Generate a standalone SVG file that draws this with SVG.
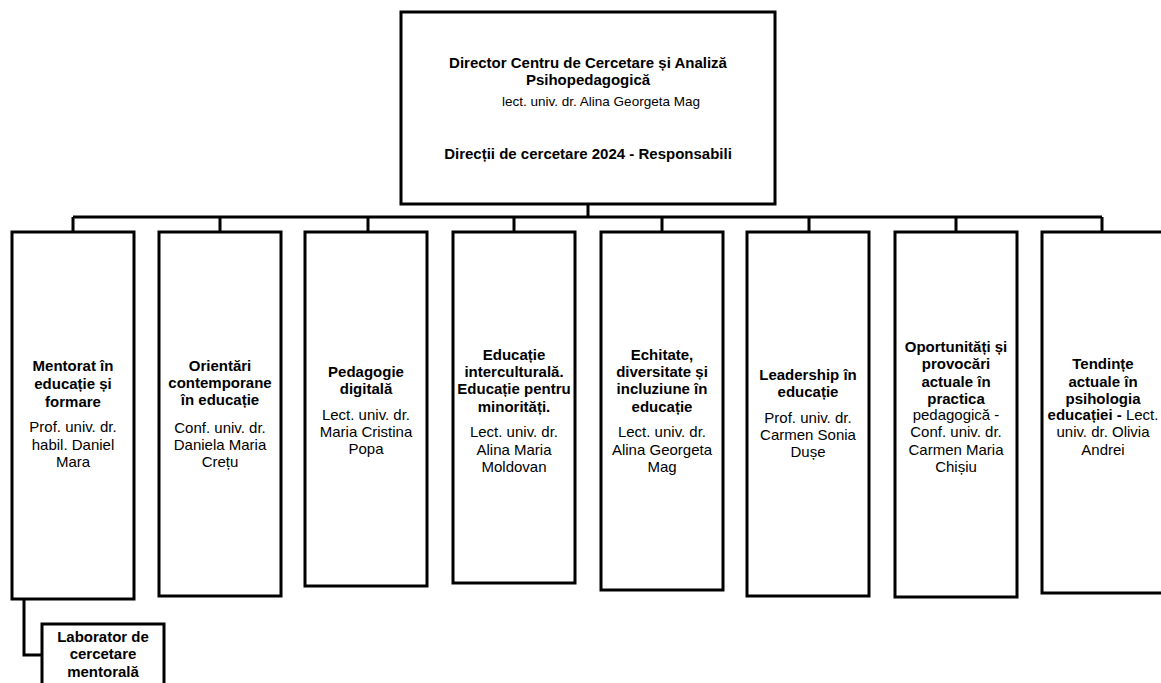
<svg xmlns="http://www.w3.org/2000/svg" width="1161" height="683" viewBox="0 0 1161 683">
<style>
.box{fill:#fff;stroke:#000;stroke-width:3}
.con{fill:none;stroke:#000;stroke-width:3}
text{font-family:"Liberation Sans",Arial,sans-serif;fill:#000;text-anchor:middle;font-size:15px}
.b{font-weight:bold}
.t{font-size:15px}
.s{font-size:13.5px}
</style>
<rect width="1161" height="683" fill="#fff"/>
<g id="connectors">
<path class="con" d="M588,205V217M73,217H1102M73,217V232M220,217V232M368,217V232M514,217V232M662,217V232M809,217V232M956,217V232M1102,217V232"/>
<path class="con" d="M24,599V655H42"/>
</g>
<g id="director">
<rect class="box" x="401" y="12" width="374" height="192"/>
<text class="b t" x="588" y="68">Director Centru de Cercetare și Analiză</text>
<text class="b t" x="588" y="85">Psihopedagogică</text>
<text class="s" x="601" y="106">lect. univ. dr. Alina Georgeta Mag</text>
<text class="b t" x="588" y="159">Direcții de cercetare 2024 - Responsabili</text>
</g>
<g id="n1">
<rect class="box" x="12" y="232" width="122" height="367"/>
<text class="b" x="73" y="371">Mentorat în</text>
<text class="b" x="73" y="389">educație și</text>
<text class="b" x="73" y="407">formare</text>
<text x="73" y="432">Prof. univ. dr.</text>
<text x="73" y="450">habil. Daniel</text>
<text x="73" y="467">Mara</text>
</g>
<g id="n2">
<rect class="box" x="159" y="232" width="122" height="364"/>
<text class="b" x="220" y="371">Orientări</text>
<text class="b" x="220" y="388">contemporane</text>
<text class="b" x="220" y="405">în educație</text>
<text x="220" y="433">Conf. univ. dr.</text>
<text x="220" y="450">Daniela Maria</text>
<text x="220" y="467">Crețu</text>
</g>
<g id="n3">
<rect class="box" x="305" y="232" width="122" height="354"/>
<text class="b" x="366" y="377">Pedagogie</text>
<text class="b" x="366" y="394">digitală</text>
<text x="366" y="420">Lect. univ. dr.</text>
<text x="366" y="437">Maria Cristina</text>
<text x="366" y="454">Popa</text>
</g>
<g id="n4">
<rect class="box" x="453" y="232" width="122" height="351"/>
<text class="b" x="514" y="360">Educație</text>
<text class="b" x="514" y="377">interculturală.</text>
<text class="b" x="514" y="394">Educație pentru</text>
<text class="b" x="514" y="412">minorități.</text>
<text x="514" y="437">Lect. univ. dr.</text>
<text x="514" y="455">Alina Maria</text>
<text x="514" y="472">Moldovan</text>
</g>
<g id="n5">
<rect class="box" x="601" y="232" width="122" height="358"/>
<text class="b" x="662" y="360">Echitate,</text>
<text class="b" x="662" y="377">diversitate și</text>
<text class="b" x="662" y="394">incluziune în</text>
<text class="b" x="662" y="412">educație</text>
<text x="662" y="437">Lect. univ. dr.</text>
<text x="662" y="455">Alina Georgeta</text>
<text x="662" y="472">Mag</text>
</g>
<g id="n6">
<rect class="box" x="747" y="232" width="122" height="364"/>
<text class="b" x="808" y="380">Leadership în</text>
<text class="b" x="808" y="397">educație</text>
<text x="808" y="423">Prof. univ. dr.</text>
<text x="808" y="440">Carmen Sonia</text>
<text x="808" y="457">Dușe</text>
</g>
<g id="n7">
<rect class="box" x="895" y="232" width="122" height="365"/>
<text class="b" x="956" y="352">Oportunități și</text>
<text class="b" x="956" y="369">provocări</text>
<text class="b" x="956" y="387">actuale în</text>
<text class="b" x="956" y="404">practica</text>
<text x="956" y="420">pedagogică -</text>
<text x="956" y="437">Conf. univ. dr.</text>
<text x="956" y="455">Carmen Maria</text>
<text x="956" y="472">Chișiu</text>
</g>
<g id="n8">
<rect class="box" x="1042" y="232" width="122" height="361"/>
<text class="b" x="1103" y="369">Tendințe</text>
<text class="b" x="1103" y="387">actuale în</text>
<text class="b" x="1103" y="404">psihologia</text>
<text x="1103" y="420"><tspan class="b">educației -</tspan> Lect.</text>
<text x="1103" y="437">univ. dr. Olivia</text>
<text x="1103" y="455">Andrei</text>
</g>
<g id="lab">
<rect class="box" x="42" y="624" width="122" height="70"/>
<text class="b" x="103" y="642">Laborator de</text>
<text class="b" x="103" y="659">cercetare</text>
<text class="b" x="103" y="677">mentorală</text>
</g>
</svg>
